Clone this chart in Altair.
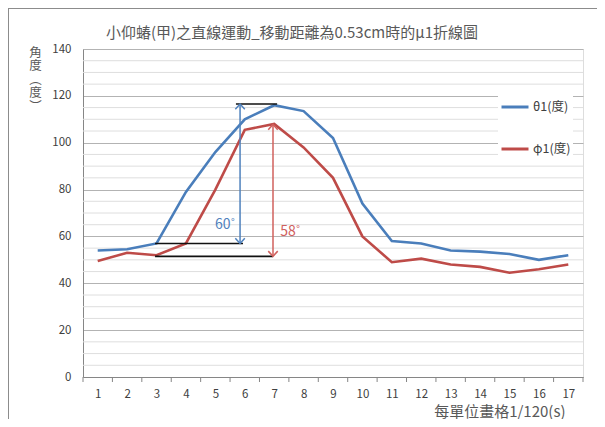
import altair as alt
import pandas as pd

# ---------------- data ----------------
frames = list(range(1, 18))
theta1 = [54, 54.5, 57, 79, 96, 110, 116, 113.5, 102, 74, 58, 57, 54, 53.5, 52.5, 50, 52]
phi1 = [49.5, 53, 52, 57, 80, 105.5, 108, 98, 85, 60, 49, 50.5, 48, 47, 44.5, 46, 48]
series_names = ["θ1(度)", "φ1(度)"]
series_colors = ["#4a7ebb", "#be4b48"]

y_major = list(range(0, 141, 20))
y_minor = [v for v in range(0, 141, 5) if v % 20 != 0]
x_tick_pos = [i + 0.5 for i in range(18)]

# annotation: black reference lines
seg_x = [2.95, 2.95, 5.7]
seg_x2 = [5.94, 6.96, 7.1]
seg_y = [57, 51.5, 116.5]

# annotation: double arrows
arrow_x = [5.84, 6.96]
arrow_top = [116.5, 107.8]
arrow_bottom = [57, 51.5]
arrow_colors = ["#4f81bd", "#d0605d"]
label_text = ["60˚", "58˚"]
label_x = [5.33, 7.55]
label_y = [65, 62]

title_text = "小仰蝽(甲)之直線運動_移動距離為0.53cm時的μ1折線圖"
x_title = "每單位畫格1/120(s)"
y_title = ["角", "度", "︵", "度", "︶"]

FONT = "Noto Sans CJK TC"
W, H = 500, 328
PAD_L, PAD_T = 75, 41
TOTAL_W, TOTAL_H = 605 - 16, 427 - 16

# ---------------- tables ----------------
df = pd.DataFrame(
    {"frame": frames * 2,
     "value": theta1 + phi1,
     "series": [series_names[0]] * 17 + [series_names[1]] * 17}
)
seg_df = pd.DataFrame({"x": seg_x, "x2": seg_x2, "y": seg_y})
arr_df = pd.DataFrame({"x": arrow_x, "top": arrow_top, "bottom": arrow_bottom, "col": arrow_colors})
head_df = pd.DataFrame({
    "x": arrow_x + arrow_x,
    "y": arrow_top + arrow_bottom,
    "dir": ["up", "up", "down", "down"],
    "col": arrow_colors + arrow_colors,
})
lab_df = pd.DataFrame({"x": label_x, "y": label_y, "t": label_text, "col": arrow_colors})
minor_df = pd.DataFrame({"v": y_minor})
tick_df = pd.DataFrame({"x": x_tick_pos})
title_df = pd.DataFrame({"t": [title_text]})

xs = alt.Scale(domain=[0.5, 17.5], nice=False, zero=False)
ys = alt.Scale(domain=[0, 140], nice=False)

X_AX = alt.Axis(
    values=frames, format="d", ticks=False, grid=False,
    labelFontSize=11.5, labelColor="#404040", labelPadding=11, labelFont=FONT,
    domainColor="#868686",
    title=x_title, titleFont=FONT, titleFontSize=15, titleFontWeight="normal",
    titleColor="#595959", titleAnchor="end", titleAlign="right",
    titleX=482, titleY=34, titleBaseline="middle",
)
Y_AX = alt.Axis(
    values=y_major, ticks=False, grid=True, gridColor="#b3b3b3",
    labelFontSize=11.5, labelColor="#404040", labelPadding=12, labelFont=FONT,
    domainColor="#868686",
    title=y_title, titleFont=FONT, titleFontSize=12.5, titleFontWeight="normal",
    titleColor="#595959", titleAngle=0, titleAlign="center",
    titleBaseline="top", titleX=-48, titleY=-3, titleLineHeight=13.5,
)

# ---------------- layers ----------------
minor_grid = alt.Chart(minor_df).mark_rule(color="#dedede", strokeWidth=1).encode(
    y=alt.Y("v:Q", scale=ys, axis=Y_AX)
)

x_ticks = alt.Chart(tick_df).mark_rule(color="#868686", strokeWidth=1).encode(
    x=alt.X("x:Q", scale=xs, axis=X_AX),
    y=alt.value(H),
    y2=alt.value(H + 5),
)

lines = alt.Chart(df).mark_line(strokeWidth=2.6).encode(
    x=alt.X("frame:Q", scale=xs, axis=X_AX),
    y=alt.Y("value:Q", scale=ys, axis=Y_AX),
    color=alt.Color(
        "series:N",
        scale=alt.Scale(domain=series_names, range=series_colors),
        sort=series_names,
        legend=alt.Legend(
            title=None, orient="none", legendX=415, legendY=41,
            fillColor="white", padding=2,
            symbolType="stroke", symbolSize=729, symbolStrokeWidth=3,
            labelFont=FONT, labelFontSize=12.5, labelColor="#404040",
            labelOffset=3, rowPadding=20,
        ),
    ),
)

segs = alt.Chart(seg_df).mark_rule(color="#111111", strokeWidth=1.6).encode(
    x=alt.X("x:Q", scale=xs, axis=X_AX),
    x2="x2:Q",
    y=alt.Y("y:Q", scale=ys, axis=Y_AX),
)

arrows = alt.Chart(arr_df).mark_rule(strokeWidth=1.5).encode(
    x=alt.X("x:Q", scale=xs, axis=X_AX),
    y=alt.Y("top:Q", scale=ys, axis=Y_AX),
    y2="bottom:Q",
    stroke=alt.Stroke("col:N", scale=None),
)

up_path = "M-1,1.1L0,0L1,1.1"
down_path = "M-1,-1.1L0,0L1,-1.1"
heads = alt.Chart(head_df).mark_point(filled=False, strokeWidth=1.5, opacity=1).encode(
    x=alt.X("x:Q", scale=xs, axis=X_AX),
    y=alt.Y("y:Q", scale=ys, axis=Y_AX),
    shape=alt.Shape("dir:N", scale=alt.Scale(domain=["up", "down"], range=[up_path, down_path]), legend=None),
    stroke=alt.Stroke("col:N", scale=None),
    size=alt.value(90),
)

labels = alt.Chart(lab_df).mark_text(font=FONT, fontSize=14, align="center", baseline="middle").encode(
    x=alt.X("x:Q", scale=xs, axis=X_AX),
    y=alt.Y("y:Q", scale=ys, axis=Y_AX),
    text="t:N",
    fill=alt.Fill("col:N", scale=None),
)

title_mark = alt.Chart(title_df).mark_text(
    font=FONT, fontSize=15, color="#595959", align="center", baseline="middle"
).encode(text="t:N", x=alt.value(209), y=alt.value(-16))

frame_top = alt.Chart(tick_df).mark_rule(color="#8c8c8c", strokeWidth=1).encode(
    x=alt.value(-PAD_L), x2=alt.value(TOTAL_W - PAD_L), y=alt.value(-PAD_T + 0.5)
)
frame_left = alt.Chart(tick_df).mark_rule(color="#8c8c8c", strokeWidth=1).encode(
    x=alt.value(-PAD_L + 0.5), y=alt.value(-PAD_T), y2=alt.value(TOTAL_H - PAD_T)
)

chart = alt.layer(
    minor_grid, x_ticks, lines, segs, arrows, heads, labels, title_mark, frame_top, frame_left
).properties(
    width=W, height=H,
    padding={"left": PAD_L, "top": PAD_T,
             "right": TOTAL_W - PAD_L - W, "bottom": TOTAL_H - PAD_T - H},
    autosize=alt.AutoSizeParams(type="none"),
).configure_view(stroke=None).configure(background="white")

chart.save("out.html", embed_options={"renderer": "svg", "actions": False})
